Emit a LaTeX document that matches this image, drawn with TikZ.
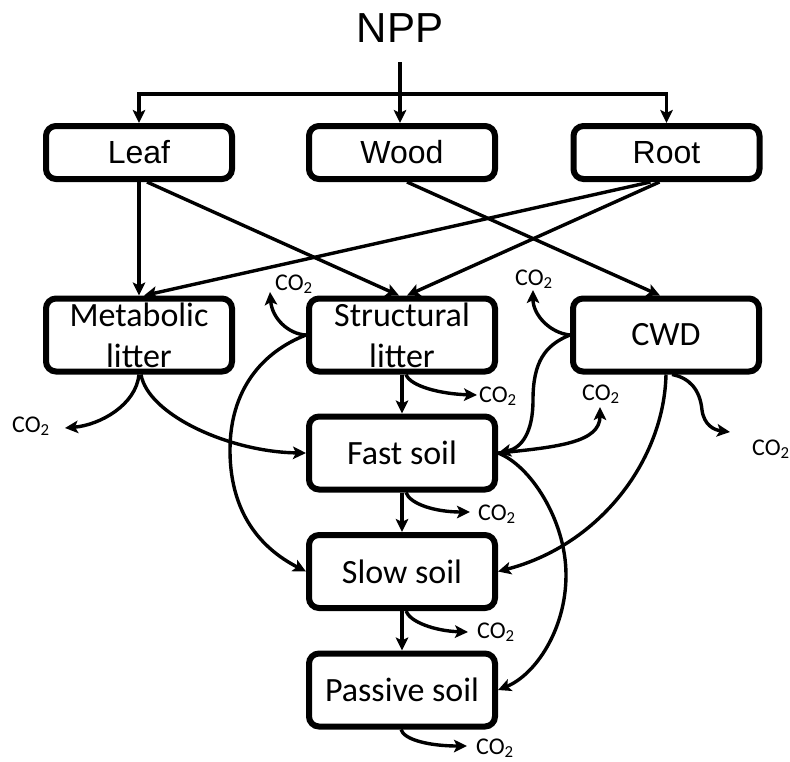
\documentclass[tikz,border=0pt]{standalone}
\usepackage{fontspec}
\setmainfont{Carlito}
\newfontfamily\arialfont{Liberation Sans}
\usetikzlibrary{arrows.meta}
\begin{document}
\begin{tikzpicture}[x=1pt,y=-1pt,
  box/.style={draw, line width=6pt, rounded corners=10pt, minimum width=186pt, inner sep=0pt, align=center},
  toprow/.style={box, minimum height=53pt, font=\arialfont\fontsize{32}{38}\selectfont},
  lowrow/.style={box, minimum height=73pt, font=\fontsize{34}{41}\selectfont},
  arr/.style={line width=3.4pt, -{Stealth[length=13pt,width=12.5pt,inset=3pt]}},
  co2/.style={inner sep=0pt, font=\fontsize{24}{28}\selectfont}]
\useasboundingbox (0,0) rectangle (790,761);

\node[inner sep=0pt, anchor=base, font=\arialfont\fontsize{42}{48}\selectfont] (NPP) at (400,42) {NPP};

\node[toprow] (Leaf) at (139,152.5) {Leaf};
\node[toprow] (Wood) at (402,152.5) {Wood};
\node[toprow] (Root) at (666.5,152.5) {Root};

\node[lowrow] (Met) at (139,335) {Metabolic\\litter};
\node[lowrow] (Struct) at (402,335) {Structural\\litter};
\node[lowrow] (CWD) at (666,335) {CWD};
\node[lowrow] (Fast) at (402,453) {Fast soil};
\node[lowrow] (Slow) at (402,571.5) {Slow soil};
\node[lowrow] (Passive) at (402,690) {Passive soil};

% NPP distribution
\coordinate (jc) at (400,94);
\draw[arr] ([yshift=-20pt]NPP.south) -- (NPP.south |- Wood.north);
\draw[arr] (jc) -| (Leaf.north);
\draw[arr] (jc) -| (Root.north);

% plant to litter
\draw[arr] (Leaf.south) -- (Met.north);
\draw[arr] ([xshift=8pt]Leaf.south) -- ([xshift=-3pt]Struct.north);
\draw[arr] ([xshift=-16pt]Root.south) -- ([xshift=5pt]Met.north);
\draw[arr] ([xshift=-7pt]Root.south) -- ([xshift=5pt]Struct.north);
\draw[arr] ([xshift=5pt]Wood.south) -- ([xshift=-6pt]CWD.north);

% CO2 free ends
\coordinate (co2a) at (270,292);
\coordinate (co2b) at (477,395);
\coordinate (co2c) at (65,428);
\coordinate (co2d) at (533,290);
\coordinate (co2e) at (600,407);
\coordinate (co2f) at (730,432);
\coordinate (co2g) at (470,512);
\coordinate (co2h) at (468,632);
\coordinate (co2i) at (467,746);

% structural litter
\draw[arr] (Struct.west) .. controls (288,334) and (272,318) .. (co2a);
\draw[arr] (Struct.west) .. controls (262,352) and (230,390) .. (230,450) .. controls (230,520) and (268,552) .. (Slow.west);
\draw[arr] (Struct.south) -- (Fast.north);
\draw[arr] ([xshift=4pt]Struct.south) .. controls (410,386) and (440,394) .. (co2b);

% metabolic litter
\draw[arr] (Met.south) .. controls (136,405) and (100,425) .. (co2c);
\draw[arr] ([xshift=2pt]Met.south) .. controls (148,415) and (230,452) .. (Fast.west);

% CWD
\draw[arr] (CWD.west) .. controls (550,333) and (533,315) .. (co2d);
\draw[arr] (CWD.west) .. controls (545,345) and (533,362) .. (533,400) .. controls (533,432) and (522,448) .. (Fast.east);
\draw[arr] (CWD.south) .. controls (664,460) and (600,545) .. (Slow.east);
\draw[arr] ([xshift=6pt]CWD.south) .. controls (690,378) and (700,390) .. (702,410) .. controls (704,425) and (714,430) .. (co2f);

% fast soil
\draw[arr] (Fast.east) .. controls (560,447) and (600,442) .. (co2e);
\draw[arr] (Fast.east) .. controls (530,465) and (566,520) .. (566,575) .. controls (566,630) and (535,675) .. (Passive.east);
\draw[arr] (Fast.south) -- (Slow.north);
\draw[arr] ([xshift=4pt]Fast.south) .. controls (410,504) and (435,512) .. (co2g);

% slow soil
\draw[arr] (Slow.south) -- (Passive.north);
\draw[arr] ([xshift=4pt]Slow.south) .. controls (410,622) and (435,631) .. (co2h);

% passive soil
\draw[arr] ([xshift=-1pt]Passive.south) .. controls (404,740) and (430,746) .. (co2i);

% CO2 labels
\node[co2, anchor=base west] (la) at (275,290) {CO\textsubscript{2}};
\node[co2, anchor=base west] (lb) at (479,402) {CO\textsubscript{2}};
\node[co2, anchor=base west] (lc) at (12,432) {CO\textsubscript{2}};
\node[co2, anchor=base west] (ld) at (515,285) {CO\textsubscript{2}};
\node[co2, anchor=base west] (le) at (582,400) {CO\textsubscript{2}};
\node[co2, anchor=base west] (lf) at (752,455) {CO\textsubscript{2}};
\node[co2, anchor=base west] (lg) at (478,520) {CO\textsubscript{2}};
\node[co2, anchor=base west] (lh) at (477,638) {CO\textsubscript{2}};
\node[co2, anchor=base west] (li) at (476,754) {CO\textsubscript{2}};
\end{tikzpicture}
\end{document}
